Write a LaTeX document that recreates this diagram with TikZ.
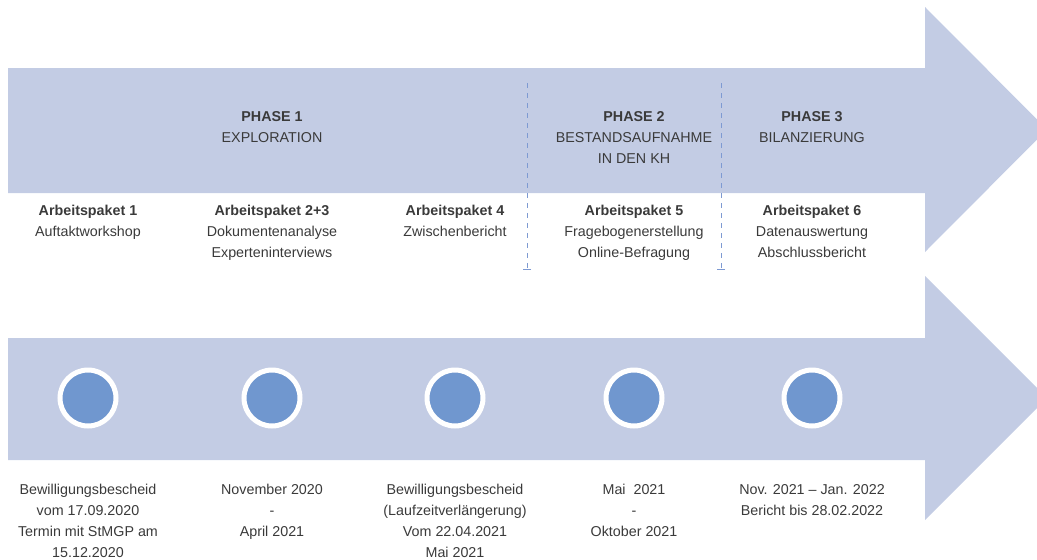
\documentclass[tikz,border=0pt]{standalone}
\usepackage{fontspec}
\setmainfont{Liberation Sans}
\usepackage{tikz}
\usetikzlibrary{positioning, arrows.meta}
\definecolor{bandblue}{HTML}{C3CCE4}
\definecolor{dotblue}{HTML}{7097CF}
\definecolor{dashblue}{HTML}{7E9AD2}
\definecolor{txtgray}{HTML}{3A3A3A}
\tikzset{
    x=1pt, y=-1pt, % pixel like units, y runs downwards
    band/.style={fill=bandblue}, % the two big arrows
    dot/.style={circle, fill=dotblue, draw=white, line width=5pt, minimum size=56pt, inner sep=0pt}, % milestone dots
    txt/.style={anchor=north, inner sep=0pt, align=center, text=txtgray, font=\fontsize{14.3}{21}\selectfont}, % all labels
    sep/.style={dashblue, line width=1pt, dash pattern=on 5pt off 5pt, -{Bar[width=8pt,line width=1pt]}}, % phase borders
    node distance=183pt, % spacing of the milestone dots
}
\begin{document}
\begin{tikzpicture}
\useasboundingbox (0,0) rectangle (1037,560);
% big arrows
\fill[band] (8,68) -- (925,68) -- (925,7) -- (1047,129.5) -- (925,252) -- (925,193) -- (8,193) -- cycle;
\fill[band] (8,338) -- (925,338) -- (925,276) -- (1047,398) -- (925,520) -- (925,460) -- (8,460) -- cycle;
% milestones
\node[dot] (c1) at (88,398) {};
\node[dot, right of=c1, node distance=184pt] (c2) {};
\node[dot, right of=c2] (c3) {};
\node[dot, right of=c3, node distance=179pt] (c4) {};
\node[dot, right of=c4, node distance=178pt] (c5) {};
% phase borders
\coordinate (d1a) at (527,83);
\coordinate (d1b) at (527,270);
\coordinate (d2a) at (721,83);
\coordinate (d2b) at (721,270);
\draw[sep] (d1a) -- (d1b);
\draw[sep] (d2a) -- (d2b);
% phases
\node[txt] (ph1) at (c2 |- 0,111) {\textbf{PHASE 1}\\EXPLORATION};
\node[txt] (ph2) at (c4 |- 0,111) {\textbf{PHASE 2}\\BESTANDSAUFNAHME\\IN DEN KH};
\node[txt] (ph3) at (c5 |- 0,111) {\textbf{PHASE 3}\\BILANZIERUNG};
% work packages
\node[txt] (ap1) at (c1 |- 0,205) {\textbf{Arbeitspaket 1}\\Auftaktworkshop};
\node[txt] (ap23) at (c2 |- 0,205) {\textbf{Arbeitspaket 2+3}\\Dokumentenanalyse\\Experteninterviews};
\node[txt] (ap4) at (c3 |- 0,205) {\textbf{Arbeitspaket 4}\\Zwischenbericht};
\node[txt] (ap5) at (c4 |- 0,205) {\textbf{Arbeitspaket 5}\\Fragebogenerstellung\\Online-Befragung};
\node[txt] (ap6) at (c5 |- 0,205) {\textbf{Arbeitspaket 6}\\Datenauswertung\\Abschlussbericht};
% dates
\node[txt] (t1) at (c1 |- 0,484) {Bewilligungsbescheid\\vom 17.09.2020\\Termin mit StMGP am\\15.12.2020};
\node[txt] (t2) at (c2 |- 0,484) {November 2020\\-\\April 2021};
\node[txt] (t3) at (c3 |- 0,484) {Bewilligungsbescheid\\(Laufzeitverlängerung)\\Vom 22.04.2021\\Mai 2021};
\node[txt] (t4) at (c4 |- 0,484) {Mai\ \ 2021\\-\\Oktober 2021};
\node[txt] (t5) at (c5 |- 0,484) {Nov. 2021 – Jan. 2022\\Bericht bis 28.02.2022};
\end{tikzpicture}
\end{document}
